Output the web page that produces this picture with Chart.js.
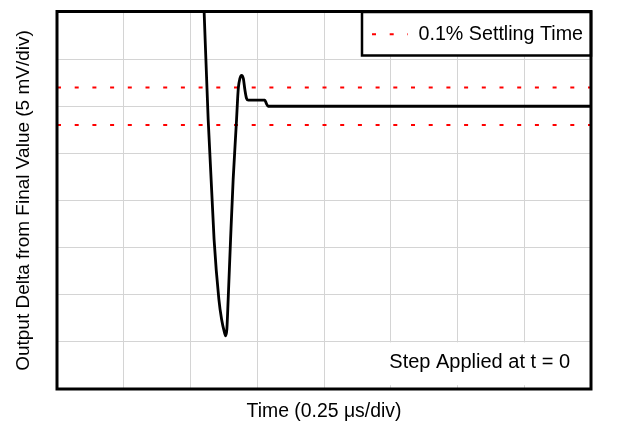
<!DOCTYPE html>
<html>
<head>
<meta charset="utf-8">
<script src="https://cdn.jsdelivr.net/npm/chart.js@4/dist/chart.umd.min.js"></script>
<style>
  html, body { margin: 0; padding: 0; background: #ffffff; }
  canvas { display: block; }
</style>
</head>
<body>
<canvas id="c" width="629" height="435"></canvas>
<script>
// ---- data ----
const timeUs = [0.5494, 0.5662, 0.5883, 0.6063, 0.6164, 0.6269, 0.6314, 0.6362, 0.6411, 0.6501,
                0.6598, 0.6725, 0.6763, 0.6793, 0.6849, 0.6912, 0.6980, 0.7036, 0.7100, 0.7167,
                0.7784, 0.7841, 0.7908, 2.0];
const outputMv = [11.30, -1.41, -14.12, -20.48, -22.60, -23.97, -24.36, -23.65, -20.48, -14.12,
                  -7.76, -1.41, 0.71, 1.98, 2.93, 3.28, 2.93, 1.77, 0.82, 0.64,
                  0.64, 0.29, 0.0, 0.0];
const settleTime = [0, 2];
const settleUpper = [2, 2];
const settleLower = [-2, -2];
const xRange = [0, 2];      // µs, 0.25 µs/div
const yRange = [-30, 10];   // mV, 5 mV/div
const legendLabel = '0.1% Settling Time';
const noteText = 'Step Applied at t = 0';
const xTitle = 'Time (0.25 \u03BCs/div)';
const yTitle = 'Output Delta from Final Value (5 mV/div)';

const FONT = '"Liberation Sans", Arial, Helvetica, sans-serif';
const toXY = (xs, ys) => xs.map((x, i) => ({ x: x, y: ys[i] }));

const framePlugin = {
  id: 'frame',
  beforeDatasetsDraw(chart) {
    const { ctx, chartArea: a, scales } = chart;
    // white note area (covers grid)
    const x0 = scales.x.getPixelForValue(1.22);
    const y0 = scales.y.getPixelForValue(-25) + 0.5;
    const y1 = scales.y.getPixelForValue(-29.6);
    ctx.save();
    ctx.fillStyle = '#ffffff';
    ctx.fillRect(x0, y0, a.right - x0, y1 - y0);
    ctx.fillStyle = '#000000';
    ctx.font = '20px ' + FONT;
    ctx.textAlign = 'center';
    ctx.textBaseline = 'middle';
    ctx.fillText(noteText, scales.x.getPixelForValue(1.583), scales.y.getPixelForValue(-27.2));
    ctx.restore();
  },
  afterDatasetsDraw(chart) {
    const { ctx, chartArea: a } = chart;
    const ds = chart.data.datasets[1];
    // legend box
    const lx = 362, ly = a.top, lw = a.right - 362, lh = 55.5 - a.top;
    ctx.save();
    ctx.fillStyle = '#ffffff';
    ctx.fillRect(lx, ly, lw, lh);
    ctx.strokeStyle = '#000000';
    ctx.lineWidth = 2.5;
    ctx.strokeRect(lx, ly, lw, lh);
    ctx.strokeStyle = ds.borderColor;
    ctx.lineWidth = 2;
    ctx.setLineDash(ds.borderDash);
    ctx.beginPath();
    ctx.moveTo(372, 34.3);
    ctx.lineTo(408, 34.3);
    ctx.stroke();
    ctx.setLineDash([]);
    ctx.fillStyle = '#000000';
    ctx.font = '19.7px ' + FONT;
    ctx.textAlign = 'left';
    ctx.textBaseline = 'middle';
    ctx.fillText(legendLabel, 418.5, 35);
    // plot frame
    ctx.strokeStyle = '#000000';
    ctx.lineWidth = 3;
    ctx.strokeRect(a.left, a.top - 0.5, a.right - a.left, a.bottom - a.top + 0.5);
    ctx.restore();
  }
};

new Chart(document.getElementById('c'), {
  type: 'line',
  data: {
    datasets: [
      {
        label: 'Output',
        data: toXY(timeUs, outputMv),
        borderColor: '#000000',
        borderWidth: 2.8,
        pointRadius: 0,
        cubicInterpolationMode: 'monotone',
        fill: false,
        order: 0
      },
      {
        label: legendLabel,
        data: toXY(settleTime, settleUpper),
        borderColor: '#ff0000',
        borderWidth: 2,
        borderDash: [4, 13.7],
        pointRadius: 0,
        fill: false,
        order: 1
      },
      {
        label: legendLabel,
        data: toXY(settleTime, settleLower),
        borderColor: '#ff0000',
        borderWidth: 2,
        borderDash: [4, 13.7],
        pointRadius: 0,
        fill: false,
        order: 1
      }
    ]
  },
  options: {
    responsive: false,
    animation: false,
    devicePixelRatio: 1,
    layout: { padding: { top: 12, right: 38, left: 0, bottom: 0 } },
    plugins: { legend: { display: false }, tooltip: { enabled: false } },
    scales: {
      x: {
        type: 'linear',
        min: xRange[0], max: xRange[1],
        ticks: { display: false, stepSize: 0.25 },
        grid: { color: '#d4d4d4', lineWidth: 1, drawTicks: false },
        border: { display: false },
        title: { display: true, text: xTitle, color: '#000000',
                 font: { family: FONT, size: 19.4 }, padding: { top: 0, bottom: 11.6 } },
        afterFit(scale) { scale.height = 46; }
      },
      y: {
        type: 'linear',
        min: yRange[0], max: yRange[1],
        ticks: { display: false, stepSize: 5 },
        grid: { color: '#d4d4d4', lineWidth: 1, drawTicks: false },
        border: { display: false },
        title: { display: true, text: yTitle, color: '#000000',
                 font: { family: FONT, size: 19 }, padding: { top: 12.6, bottom: 0 } },
        afterFit(scale) { scale.width = 57; }
      }
    }
  },
  plugins: [framePlugin]
});
</script>
</body>
</html>
